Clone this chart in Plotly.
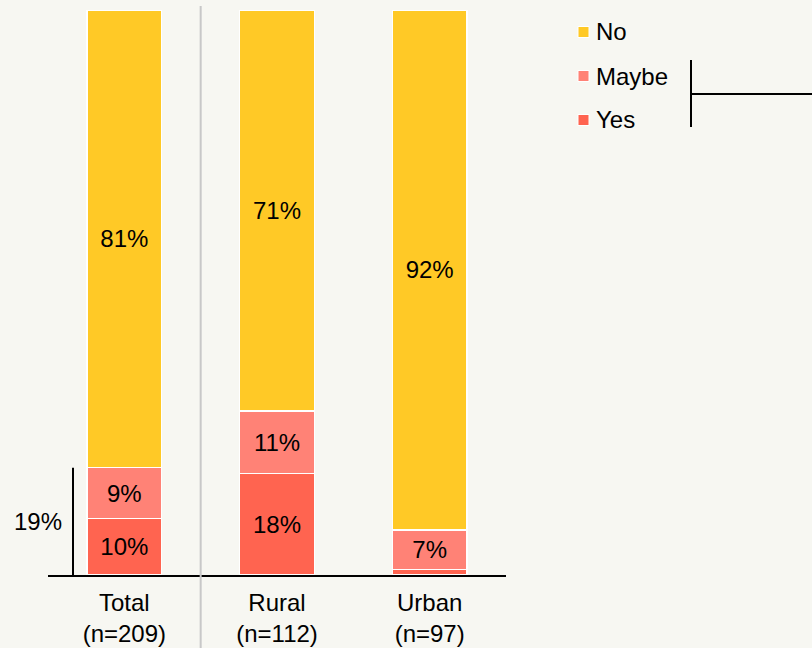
import plotly.graph_objects as go

categories = ["Total<br>(n=209)", "Rural<br>(n=112)", "Urban<br>(n=97)"]
yes_vals = [10, 18, 1]
maybe_vals = [9, 11, 7]
no_vals = [81, 71, 92]
series_names = ["Yes", "Maybe", "No"]
series_colors = ["#FF6450", "#FF8276", "#FFC926"]
bracket_label = "19%"

BG = "#F7F7F2"
FONT = "Liberation Sans, Arial, sans-serif"
FS = 24

def labels(vals):
    return [f"{v}%" if v >= 3 else "" for v in vals]

fig = go.Figure()
for name, vals, col in zip(series_names, [yes_vals, maybe_vals, no_vals], series_colors):
    fig.add_trace(go.Bar(
        x=categories, y=vals, name=name,
        marker=dict(color=col, line=dict(color="white", width=1.5)),
        text=labels(vals), textposition="inside", insidetextanchor="middle",
        textangle=0, textfont=dict(size=FS, color="black", family=FONT),
        width=0.49, showlegend=False, hoverinfo="skip",
    ))

# plot area geometry (pixels) for paper conversions
L, R, T, B = 48, 306, 10, 73
W, H = 812, 648
pw = W - L - R
ph = H - T - B

def px(xp):
    return (xp - L) / pw

def py(yp):
    return (H - B - yp) / ph

shapes = []
# separator between Total and Rural
shapes.append(dict(type="line", xref="x", yref="paper", x0=0.5, x1=0.5,
                   y0=py(650), y1=py(6), line=dict(color="#C8C8C8", width=2)))
# bracket near Total
shapes.append(dict(type="line", xref="paper", yref="y", x0=px(73), x1=px(73),
                   y0=0, y1=yes_vals[0] + maybe_vals[0], line=dict(color="black", width=2)))

annotations = [dict(xref="paper", yref="y", x=px(64), y=(yes_vals[0] + maybe_vals[0]) / 2,
                    text=bracket_label, showarrow=False, xanchor="right", yanchor="middle",
                    font=dict(size=FS, color="black", family=FONT))]

# custom legend (top to bottom: No, Maybe, Yes)
leg_y = [32, 76, 120]
for (name, col), yy in zip(list(zip(series_names, series_colors))[::-1], leg_y):
    shapes.append(dict(type="rect", xref="paper", yref="paper",
                       x0=px(578), x1=px(589), y0=py(yy + 5.5), y1=py(yy - 5.5),
                       fillcolor=col, line=dict(color="white", width=1)))
    annotations.append(dict(xref="paper", yref="paper", x=px(594), y=py(yy),
                            text=name, showarrow=False, xanchor="left", yanchor="middle",
                            font=dict(size=FS, color="black", family=FONT)))
# legend bracket
shapes.append(dict(type="line", xref="paper", yref="paper", x0=px(691), x1=px(691),
                   y0=py(127), y1=py(60), line=dict(color="black", width=2)))
shapes.append(dict(type="line", xref="paper", yref="paper", x0=px(691), x1=px(815),
                   y0=py(94), y1=py(94), line=dict(color="black", width=2)))

fig.update_layout(
    barmode="stack",
    width=W, height=H,
    margin=dict(l=L, r=R, t=T, b=B, pad=0, autoexpand=False),
    paper_bgcolor=BG, plot_bgcolor=BG,
    font=dict(family=FONT, size=FS, color="black"),
    xaxis=dict(showline=True, linecolor="black", linewidth=2, ticks="",
               showgrid=False, zeroline=False, tickfont=dict(size=FS, color="black"),
               range=[-0.5, 2.5], automargin=False, ticklabelstandoff=5),
    yaxis=dict(visible=False, range=[0, 100], showgrid=False, zeroline=False,
               automargin=False),
    shapes=shapes, annotations=annotations,
    bargap=0.51,
)

fig.write_html(
    "out.html",
    config={"displayModeBar": False},
    post_script="document.body.style.margin='0';document.body.style.background='%s';" % BG,
)
